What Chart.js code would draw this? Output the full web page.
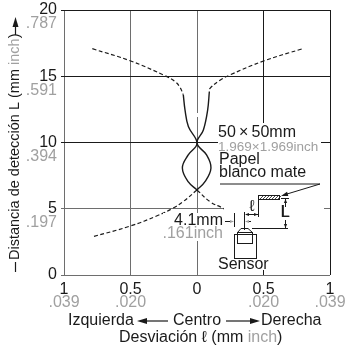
<!DOCTYPE html>
<html>
<head>
<meta charset="utf-8">
<script src="https://cdn.jsdelivr.net/npm/chart.js@4"></script>
<style>
  html, body { margin: 0; padding: 0; background: #fff; }
  #wrap { position: relative; width: 345px; height: 349px; }
</style>
</head>
<body>
<div id="wrap"><canvas id="chart" width="345" height="349"></canvas></div>
<script>
// #############################################################################
// Data (deviation in mm, distance in mm)
const topLeftDashX = [-0.787, -0.498, -0.24, -0.165, -0.128, -0.103];
const topLeftDashY = [17.08, 16.15, 15.04, 14.6, 14.17, 13.6];
const topRightDashX = [0.787, 0.5, 0.248, 0.173, 0.098, 0.093];
const topRightDashY = [17.06, 16.15, 15.1, 14.7, 14.09, 13.85];

const leftSolidX = [-0.103, -0.09, -0.065, 0, -0.066, -0.11, -0.065, 0];
const leftSolidY = [13.6, 12.45, 11.2, 9.95, 9.06, 8.08, 7.02, 6.42];
const rightSolidX = [0.093, 0.08, 0.048, 0, 0.072, 0.105, 0.06, 0];
const rightSolidY = [13.85, 12.45, 10.95, 9.95, 9.06, 8.08, 7.04, 6.42];

const lowLeftDashX = [0, -0.105, -0.18, -0.3, -0.5, -0.79];
const lowLeftDashY = [6.42, 5.53, 5.05, 4.47, 3.7, 2.87];
const lowRightDashX = [0, 0.098, 0.195, 0.3, 0.5, 0.79];
const lowRightDashY = [6.42, 5.53, 5.05, 4.47, 3.7, 2.87];

const xInchLabels = [".039", ".020", "", ".020", ".039"];
const xTickValues = [-1, -0.5, 0, 0.5, 1];
const yInchLabels = ["", ".197", ".394", ".591", ".787"];
const yTickValues = [0, 5, 10, 15, 20];

const black = "#1a1a1a";
const gray = "#a0a0a0";
const gridGray = "#6e6e6e";
const font = '"Liberation Sans", Arial, sans-serif';

const toPoints = (xs, ys) => xs.map((x, i) => ({ x: x, y: ys[i] }));

const curve = function (xs, ys, dashed) {
    return {
        data: toPoints(xs, ys),
        showLine: true,
        borderColor: black,
        borderWidth: dashed ? 1.2 : 1.4,
        borderDash: dashed ? [4, 2.5] : [],
        pointRadius: 0,
        tension: 0.4,
        fill: false,
        clip: false,
    };
};

// #############################################################################
// Text and the sensor sketch, painted over the library's own axes

function text(ctx, str, x, y, color, align, size) {
    ctx.font = (size || 16) + "px " + font;
    ctx.fillStyle = color || black;
    ctx.textAlign = align || "left";
    ctx.textBaseline = "middle";
    ctx.fillText(str, x, y);
    return ctx.measureText(str).width;
}

function seg(ctx, x1, y1, x2, y2, width) {
    ctx.lineWidth = width || 1;
    ctx.beginPath();
    ctx.moveTo(x1, y1);
    ctx.lineTo(x2, y2);
    ctx.stroke();
}

function head(ctx, x, y, angle, len, wide) {
    ctx.save();
    ctx.translate(x, y);
    ctx.rotate(angle);
    ctx.beginPath();
    ctx.moveTo(0, 0);
    ctx.lineTo(-len, -wide);
    ctx.lineTo(-len, wide);
    ctx.closePath();
    ctx.fill();
    ctx.restore();
}

const overlay = {
    id: "overlay",
    afterDraw(chart) {
        const ctx = chart.ctx;
        const xs = chart.scales.x;
        const ys = chart.scales.y;
        ctx.save();

        // white boxes behind the notes
        ctx.fillStyle = "#fff";
        ctx.fillRect(218, 123, 103, 62);
        ctx.fillRect(224, 185, 100, 85);
        ctx.fillRect(163, 213, 61, 28);
        ctx.fillRect(195, 113, 4, 4);

        // inch tick labels under the mm ones
        xTickValues.forEach((v, i) => {
            text(ctx, xInchLabels[i], xs.getPixelForValue(v), 303, gray, "center");
        });
        yTickValues.forEach((v, i) => {
            text(ctx, yInchLabels[i], 57, ys.getPixelForValue(v) + 14, gray, "right");
        });

        // bottom captions
        text(ctx, "Izquierda", 68, 321);
        text(ctx, "Centro", 173, 321);
        text(ctx, "Derecha", 261, 321);
        ctx.strokeStyle = black;
        ctx.fillStyle = black;
        seg(ctx, 146, 321, 168, 321, 1.2);
        head(ctx, 137, 321, Math.PI, 10, 3);
        seg(ctx, 226, 321, 251, 321, 1.2);
        head(ctx, 260, 321, 0, 10, 3);

        let cx = 119;
        cx += text(ctx, "Desviación ", cx, 338);
        cx += text(ctx, "\u2113", cx, 338);
        cx += text(ctx, " (mm ", cx, 338);
        cx += text(ctx, "inch", cx, 338, gray);
        text(ctx, ")", cx, 338);

        // y title, rotated
        ctx.save();
        ctx.translate(15, 0);
        ctx.rotate(-Math.PI / 2);
        let ty = -260;
        ty += text(ctx, "Distancia de detección L (mm ", ty, 0, black, "left", 14.5);
        ty += text(ctx, "inch", ty, 0, gray, "left", 14.5);
        text(ctx, ")", ty, 0, black, "left", 14.5);
        ctx.restore();
        ctx.strokeStyle = black;
        ctx.fillStyle = black;
        seg(ctx, 15.5, 262, 15.5, 272, 1.2);
        seg(ctx, 15.5, 26, 15.5, 35, 1.2);
        head(ctx, 15.5, 17, -Math.PI / 2, 10, 3);

        // target note
        cx = 218;
        cx += text(ctx, "50", cx, 133);
        cx += text(ctx, "\u2009\u00d7\u2009", cx, 133);
        text(ctx, "50mm", cx, 133);
        text(ctx, "1.969\u00d71.969inch", 218, 147, gray, "left", 13.5);
        text(ctx, "Papel", 219, 160);
        text(ctx, "blanco mate", 219, 173);

        // leader from note to paper
        ctx.strokeStyle = black;
        ctx.fillStyle = black;
        seg(ctx, 220, 184, 320, 184, 1);
        seg(ctx, 320, 184, 287, 194, 1);
        head(ctx, 281, 196, Math.atan2(12, -39), 7, 2.2);

        // hatched paper
        ctx.strokeRect(258.5, 195.5, 21, 4);
        ctx.lineWidth = 0.8;
        for (let hx = 260; hx < 279; hx += 3) {
            seg(ctx, hx, 199, hx + 3, 196, 0.8);
        }

        // L dimension
        seg(ctx, 281, 198.5, 289, 198.5);
        seg(ctx, 285.5, 199, 285.5, 207);
        head(ctx, 285.5, 199, -Math.PI / 2, 4, 1.6);
        seg(ctx, 285.5, 220, 285.5, 228);
        head(ctx, 285.5, 228, Math.PI / 2, 4, 1.6);
        seg(ctx, 252, 228.5, 288, 228.5);
        text(ctx, "L", 285, 213, black, "center");
        text(ctx, "L", 285.4, 213, black, "center");

        // offset dimension
        seg(ctx, 258.5, 199, 258.5, 217);
        seg(ctx, 244.5, 212, 244.5, 230);
        seg(ctx, 246, 214.5, 258, 214.5);
        head(ctx, 245, 214.5, Math.PI, 4, 1.6);
        head(ctx, 258, 214.5, 0, 4, 1.6);
        text(ctx, "\u2113", 252, 207, black, "center");

        // 4.1mm note
        text(ctx, "4.1mm", 223, 221, black, "right");
        text(ctx, ".161inch", 223, 234, gray, "right");
        seg(ctx, 225, 221.5, 233, 221.5);
        head(ctx, 234, 221.5, 0, 4, 1.6);
        seg(ctx, 234.5, 213, 234.5, 227);
        seg(ctx, 246, 221.5, 251, 221.5);
        head(ctx, 245, 221.5, Math.PI, 4, 1.6);

        // sensor
        ctx.lineWidth = 1;
        ctx.strokeRect(234.5, 234.5, 22, 24);
        ctx.strokeRect(237.5, 232.5, 15, 11);
        ctx.beginPath();
        ctx.moveTo(237.5, 232.5);
        ctx.lineTo(241, 228.5);
        ctx.lineTo(248, 228.5);
        ctx.lineTo(252.5, 232.5);
        ctx.stroke();
        text(ctx, "Sensor", 218, 265);

        ctx.restore();
    },
};

// #############################################################################
// Chart

const ctx = document.getElementById("chart").getContext("2d");
const chart = new Chart(ctx, {
    type: "scatter",
    data: {
        datasets: [
            curve(topLeftDashX, topLeftDashY, true),
            curve(topRightDashX, topRightDashY, true),
            curve(leftSolidX, leftSolidY, false),
            curve(rightSolidX, rightSolidY, false),
            curve(lowLeftDashX, lowLeftDashY, true),
            curve(lowRightDashX, lowRightDashY, true),
        ],
    },
    options: {
        responsive: false,
        animation: false,
        layout: { padding: { top: 0, right: 15, left: 0, bottom: 0 } },
        plugins: { legend: { display: false }, tooltip: { enabled: false } },
        scales: {
            x: {
                type: "linear",
                min: -1,
                max: 1,
                afterFit: (scale) => { scale.height = 74; scale.paddingRight = 0; },
                border: { display: false },
                grid: {
                    tickLength: 0,
                    lineWidth: 1,
                    color: (c) => (c.tick && c.tick.value > 0 ? black : gridGray),
                },
                ticks: {
                    stepSize: 0.5,
                    autoSkip: false,
                    maxRotation: 0,
                    padding: 5,
                    color: black,
                    font: { family: font, size: 16 },
                    callback: (v) => Math.abs(v),
                },
            },
            y: {
                type: "linear",
                min: 0,
                max: 20,
                afterFit: (scale) => { scale.width = 64; scale.paddingTop = 10; scale.paddingBottom = 0; },
                border: { display: false },
                grid: {
                    tickLength: 3,
                    lineWidth: 1,
                    color: (c) => (c.tick && c.tick.value >= 10 ? black : gridGray),
                },
                ticks: {
                    stepSize: 5,
                    padding: 4,
                    color: black,
                    font: { family: font, size: 16 },
                },
            },
        },
    },
    plugins: [overlay],
});
</script>
</body>
</html>
